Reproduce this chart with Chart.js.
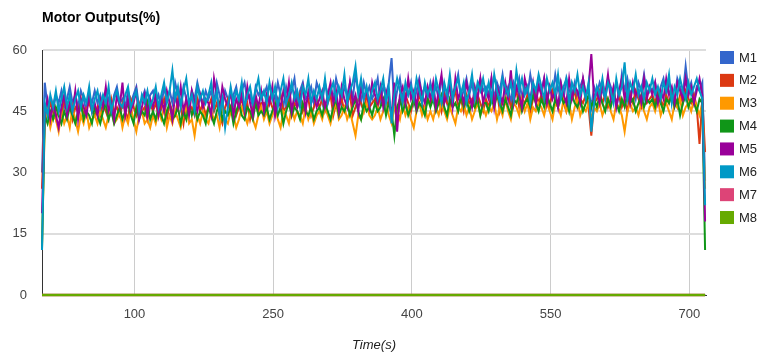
<!DOCTYPE html>
<html>
<head>
<meta charset="utf-8">
<script src="https://cdn.jsdelivr.net/npm/chart.js@4.4.1/dist/chart.umd.min.js"></script>
<style>
html,body{margin:0;padding:0;background:#fff;}
canvas{display:block;}
</style>
</head>
<body>
<canvas id="c" width="778" height="358"></canvas>
<script>
const chartTitle = "Motor Outputs(%)";
const xTitle = "Time(s)";
const seriesNames = ["M1","M2","M3","M4","M5","M6","M7","M8"];
const seriesColors = ["#3366cc","#dc3912","#ff9900","#109618","#990099","#0099c6","#dd4477","#66aa00"];
const xTickValues = [100,250,400,550,700];
const yTickValues = [0,15,30,45,60];
const sampleStep = 3;

const m1 = [
30,52,46,48,45,49,47,50,46,48,51,47,49,46,50,48,45,49,47,50,
47,49,46,50,48,45,49,51,47,48,46,50,47,49,51,46,48,50,47,49,
50,47,49,46,51,48,50,47,52,49,47,51,48,46,50,48,52,49,47,50,
48,50,47,52,49,46,50,48,45,49,51,47,50,52,48,49,46,51,49,50,
49,51,47,50,48,52,49,46,51,48,50,53,47,50,52,48,49,51,47,52,
50,47,52,49,51,48,53,50,47,51,49,52,48,54,50,47,52,49,51,48,
50,53,47,51,49,52,58,46,50,53,48,51,49,52,47,50,53,49,51,48,
52,49,51,48,53,50,47,52,49,51,54,48,50,53,49,52,48,51,53,50,
51,49,53,48,52,50,54,49,51,47,52,50,53,48,51,49,54,50,48,52,
50,53,48,51,49,54,50,52,48,53,50,49,52,48,51,53,49,50,46,51,
49,52,50,48,53,51,49,52,48,54,50,53,49,51,48,52,50,54,49,51,
50,52,48,51,53,49,52,50,48,53,51,49,56,50,52,48,51,50,52,28
];
const m2 = [
26,46,44,47,45,43,46,44,48,45,47,43,46,45,48,44,46,47,45,44,
46,44,47,45,43,48,45,46,44,47,45,43,48,46,44,47,45,46,43,47,
45,47,44,46,48,43,47,45,44,48,46,42,47,45,46,44,48,45,47,44,
46,48,45,47,44,42,46,48,45,47,44,46,48,45,47,43,46,48,45,47,
47,45,48,46,44,47,49,45,46,48,44,47,46,49,45,47,48,44,46,48,
46,48,45,47,49,44,47,46,48,45,47,49,44,46,48,47,45,49,46,47,
48,46,49,47,45,48,44,47,43,48,46,49,47,45,48,46,49,47,45,48,
47,49,46,48,45,49,47,46,48,50,46,48,45,49,47,48,46,49,47,45,
48,46,49,47,50,45,48,47,49,46,48,50,46,48,47,49,45,48,50,47,
49,47,48,46,50,48,46,49,47,45,49,48,50,46,48,47,49,46,39,47,
48,50,47,49,46,48,50,47,49,46,48,45,49,47,50,48,46,49,47,48,
49,47,50,48,46,49,47,50,48,46,49,47,50,48,47,49,46,37,48,35
];
const m3 = [
12,42,45,41,44,43,40,45,42,44,41,46,43,40,44,42,45,41,43,44,
42,45,43,41,44,46,42,43,45,41,44,42,46,43,40,44,45,42,43,41,
44,42,45,43,46,41,44,42,45,43,41,44,46,42,43,39,44,42,45,43,
42,45,43,44,41,46,43,42,45,44,41,43,46,44,42,45,43,41,44,46,
43,45,42,44,46,43,41,45,44,42,46,43,45,44,42,46,43,45,42,44,
45,43,46,44,42,45,47,43,44,46,43,45,42,39,44,43,45,47,44,43,
44,46,43,45,47,44,42,46,45,43,47,44,46,43,41,45,47,44,46,43,
45,43,46,44,47,45,43,46,44,42,46,45,47,44,46,43,45,47,44,46,
44,46,45,47,43,46,44,48,45,43,47,46,44,48,45,47,43,46,45,47,
46,44,47,45,43,47,46,44,48,45,47,43,46,48,44,46,45,47,43,46,
45,47,44,46,48,45,43,47,46,44,40,45,47,45,46,44,47,45,43,46,
47,45,48,44,46,47,45,43,47,46,48,44,46,47,45,48,46,44,47,26
];
const m4 = [
11,44,42,45,43,46,44,42,45,43,46,44,42,45,47,43,45,44,42,46,
44,42,45,47,43,45,42,44,46,43,45,47,44,42,46,43,45,44,47,43,
45,43,46,44,42,45,47,43,44,46,42,45,43,47,44,46,43,45,44,42,
46,44,42,45,47,43,45,44,46,42,45,47,44,43,46,45,43,47,44,45,
44,46,43,45,47,44,46,42,45,47,44,46,45,43,47,45,44,46,43,45,
46,44,47,45,43,46,48,44,46,45,47,44,46,48,45,43,47,45,46,44,
47,45,46,48,44,47,45,39,46,48,45,47,44,46,48,45,47,46,44,48,
46,48,45,47,49,46,44,48,46,47,45,49,46,48,45,47,46,48,44,47,
47,45,48,46,49,47,45,48,46,44,48,47,49,45,47,48,46,49,47,45,
48,46,49,47,45,48,46,49,47,48,45,49,47,46,48,45,47,49,46,48,
46,49,47,45,48,46,49,47,45,48,46,49,47,48,45,47,49,46,48,47,
48,46,49,47,45,48,47,49,46,48,44,47,49,46,48,47,45,48,47,11
];
const m5 = [
20,45,48,43,47,44,41,46,49,44,47,45,50,43,48,46,44,49,45,47,
44,48,46,51,45,47,43,49,46,52,44,48,45,47,50,43,46,49,44,48,
46,49,44,48,45,50,47,43,49,46,51,45,48,44,50,47,45,49,46,48,
47,44,53,49,45,51,48,46,50,44,48,46,49,45,51,47,44,49,46,50,
45,49,47,51,44,48,46,50,47,52,45,49,46,48,51,45,50,47,49,46,
48,50,46,49,52,47,50,45,51,48,46,52,47,49,45,51,48,50,46,52,
49,47,51,46,50,48,44,52,40,49,51,47,53,48,50,46,52,49,47,51,
48,52,46,50,54,47,49,51,46,53,48,50,47,52,49,46,51,48,53,47,
50,48,53,46,51,49,47,52,48,55,47,51,49,46,53,50,48,52,47,51,
49,53,47,51,48,50,46,52,49,47,53,48,51,50,47,53,49,51,59,48,
50,47,52,49,54,48,51,46,50,53,48,51,47,52,49,50,47,53,48,51,
49,52,47,50,48,53,49,51,47,52,50,48,53,49,51,47,50,53,49,18
];
const m6 = [
11,47,44,49,46,50,45,48,51,46,49,45,48,50,46,49,47,51,45,48,
50,46,49,47,51,45,48,50,47,46,49,51,46,48,50,45,49,47,50,46,
48,51,46,49,52,47,50,55,48,51,46,50,53,47,49,45,51,48,50,47,
49,52,46,50,44,48,41,46,51,47,50,48,52,46,49,51,47,50,53,48,
50,47,52,48,51,46,50,53,47,49,52,48,50,46,51,49,53,47,50,48,
51,48,53,47,50,52,48,51,49,54,47,50,52,56,49,53,48,51,47,50,
52,48,50,53,47,51,42,49,53,50,47,52,49,51,48,53,50,47,52,49,
51,48,53,50,47,52,49,54,48,51,53,49,52,47,50,54,48,52,50,53,
49,52,48,54,50,47,53,51,49,52,48,55,50,53,49,51,47,52,50,54,
51,48,53,50,52,49,54,48,51,53,47,52,50,54,49,51,48,52,40,47,
51,49,53,48,52,50,47,53,49,51,57,48,52,50,54,49,51,48,52,50,
53,49,51,48,52,50,54,47,51,49,53,50,48,52,49,51,53,50,48,22
];
const m7 = new Array(240).fill(0);
const m8 = new Array(240).fill(0);
const seriesValues = [m1,m2,m3,m4,m5,m6,m7,m8];

// ---- chart ----
const FONT = "'Liberation Sans', Arial, sans-serif";
const datasets = seriesValues.map((vals, i) => ({
  label: seriesNames[i],
  data: vals.map((v, k) => ({x: k * sampleStep, y: v})),
  borderColor: seriesColors[i],
  backgroundColor: seriesColors[i],
  borderWidth: i >= 6 ? 2.5 : 2,
  pointRadius: 0,
  tension: 0,
  clip: 4,
  order: seriesNames.length - i
}));

const decorPlugin = {
  id: 'decor',
  afterDraw(chart) {
    const ctx = chart.ctx;
    const area = chart.chartArea;
    ctx.save();
    ctx.fillStyle = '#000';
    ctx.font = "bold 14px " + FONT;
    ctx.textBaseline = 'middle';
    ctx.textAlign = 'left';
    ctx.fillText(chartTitle, area.left, 18.5);
    ctx.font = "13px " + FONT;
    for (let i = 0; i < seriesNames.length; i++) {
      const y = 51 + i * 22.86;
      ctx.fillStyle = seriesColors[i];
      ctx.fillRect(720, y, 14, 13);
      ctx.fillStyle = '#222';
      ctx.fillText(seriesNames[i], 739, y + 7);
    }
    ctx.restore();
  }
};

new Chart(document.getElementById('c'), {
  type: 'line',
  data: { datasets },
  plugins: [decorPlugin],
  options: {
    responsive: false,
    animation: false,
    layout: { padding: { top: 50, right: 72, bottom: 0, left: 0 } },
    plugins: { legend: { display: false }, title: { display: false }, tooltip: { enabled: false } },
    scales: {
      x: {
        type: 'linear',
        min: 0,
        max: 718,
        afterBuildTicks(scale) { scale.ticks = xTickValues.map(v => ({ value: v })); },
        afterFit(scale) { scale.height = 63; },
        ticks: { color: '#444', font: { family: FONT, size: 13 }, padding: 12, maxRotation: 0, autoSkip: false },
        grid: { color: '#cccccc', lineWidth: 1, drawTicks: false },
        border: { display: true, color: '#333', width: 1 },
        title: { display: true, text: xTitle, color: '#222', font: { family: FONT, size: 13, style: 'italic' }, padding: { top: 0, bottom: 5 } }
      },
      y: {
        type: 'linear',
        min: 0,
        max: 60,
        afterBuildTicks(scale) { scale.ticks = yTickValues.map(v => ({ value: v })); },
        afterFit(scale) { scale.width = 42; },
        ticks: { color: '#444', font: { family: FONT, size: 13 }, padding: 15 },
        grid: { color: '#dddddd', lineWidth: 2, drawTicks: false },
        border: { display: true, color: '#333', width: 1 }
      }
    }
  }
});
</script>
</body>
</html>
